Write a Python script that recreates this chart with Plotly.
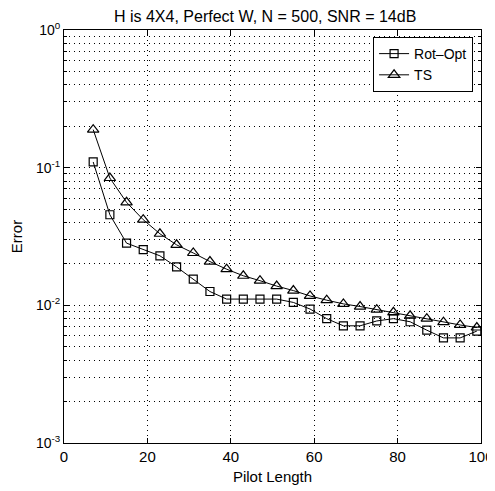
import plotly.graph_objects as go

pilot_length = [7, 11, 15, 19, 23, 27, 31, 35, 39, 43, 47, 51, 55, 59, 63, 67, 71, 75, 79, 83, 87, 91, 95, 99]
rot_opt = [0.110, 0.0455, 0.0283, 0.0254, 0.0229, 0.019, 0.0155, 0.0126, 0.0111, 0.0111, 0.0111, 0.0111,
           0.0105, 0.0094, 0.0080, 0.0071, 0.0071, 0.0077, 0.0080, 0.0076, 0.0066, 0.0058, 0.0058, 0.0065]
ts = [0.189, 0.0841, 0.056, 0.0419, 0.0331, 0.0275, 0.024, 0.0208, 0.0183, 0.0164, 0.0151, 0.0138,
      0.0128, 0.0117, 0.0109, 0.01025, 0.0098, 0.0093, 0.0089, 0.0084, 0.0080, 0.00755, 0.0072, 0.0069]

y_tickvals = [1, 0.1, 0.01, 0.001]
y_ticktext = ["10<sup>0</sup>", "10<sup>-1</sup>", "10<sup>-2</sup>", "10<sup>-3</sup>"]
x_tickvals = [0, 20, 40, 60, 80, 100]

FONT = "Liberation Sans, Arial, sans-serif"

fig = go.Figure()
fig.add_trace(go.Scatter(
    x=pilot_length, y=rot_opt, name="Rot\u2013Opt", mode="lines+markers",
    line=dict(color="black", width=1),
    marker=dict(symbol="square-open", size=8, color="black", line=dict(width=1.2)),
))
fig.add_trace(go.Scatter(
    x=pilot_length, y=ts, name="TS", mode="lines+markers",
    line=dict(color="black", width=1),
    marker=dict(symbol="triangle-up-open", size=10, color="black", line=dict(width=1.2)),
))

# page body adds an 8px offset, so the figure is sized to fill the rest of the window
fig.update_layout(
    width=487, height=483,
    margin=dict(l=56, r=14, t=22, b=48),
    paper_bgcolor="white", plot_bgcolor="white",
    font=dict(family=FONT, size=15, color="black"),
    title=dict(text="H is 4X4, Perfect W, N = 500, SNR = 14dB", x=0.528, xanchor="center",
               y=0.995, yanchor="top", font=dict(size=16)),
    showlegend=True,
    legend=dict(x=0.981, y=0.983, xanchor="right", yanchor="top",
                bordercolor="black", borderwidth=1, bgcolor="white",
                font=dict(size=14), tracegroupgap=0, itemwidth=30),
    xaxis=dict(
        range=[0, 100], tickvals=x_tickvals, showline=True, linecolor="black", linewidth=1,
        mirror="allticks", ticks="inside", ticklen=5, tickcolor="black",
        tickfont=dict(size=15), automargin=False,
        showgrid=True, gridcolor="black", gridwidth=1, griddash="1px,4px",
        zeroline=False, title=dict(text="Pilot Length", standoff=7, font=dict(size=15)),
    ),
    yaxis=dict(
        type="log", range=[-3, 0], tickvals=y_tickvals, ticktext=y_ticktext,
        showline=True, linecolor="black", linewidth=1,
        mirror="allticks", ticks="inside", ticklen=5, tickcolor="black",
        tickfont=dict(size=14), automargin=False,
        showgrid=True, gridcolor="black", gridwidth=1, griddash="1px,4px",
        zeroline=False, title=dict(text="Error", standoff=12, font=dict(size=15)),
        minor=dict(tickvals=[k * 10 ** e for e in (-3, -2, -1) for k in range(2, 10)],
                   ticks="inside", ticklen=3, tickcolor="black",
                   showgrid=True, gridcolor="black", gridwidth=1, griddash="1px,4px"),
    ),
)

fig.write_html("out.html")
